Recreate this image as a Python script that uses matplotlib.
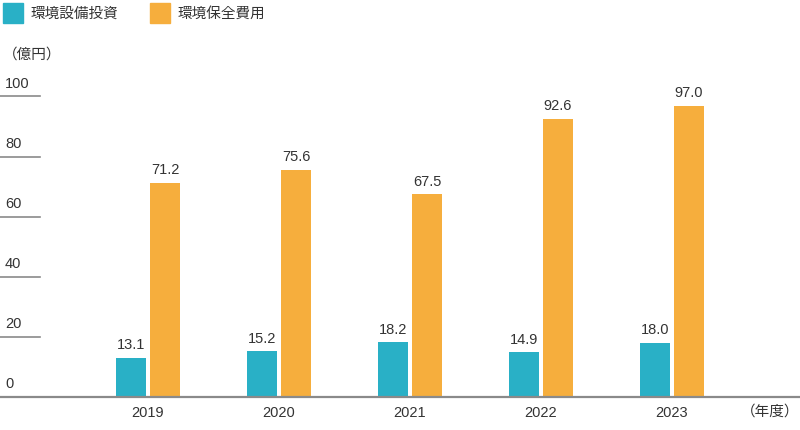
import matplotlib.pyplot as plt
import numpy as np

years = ['2019', '2020', '2021', '2022', '2023']
equipment = [13.1, 15.2, 18.2, 14.9, 18.0]
conservation = [71.2, 75.6, 67.5, 92.6, 97.0]
yticks = [0, 20, 40, 60, 80, 100]
series_names = ['環境設備投資', '環境保全費用']

teal = '#29b0c6'
orange = '#f6ae3d'
grey = '#8a8a8a'
text_c = '#333333'

plt.rcParams['font.family'] = ['Liberation Sans', 'Noto Sans CJK JP', 'DejaVu Sans']

W, H = 800, 430
fig = plt.figure(figsize=(8, 4.3), dpi=100)
# axes placed in pixel terms: y=0 at 397px, y=100 at 96.5px (from top)
ax = fig.add_axes([0, (H - 397) / H, 1, (397 - 96.5) / H])
ax.set_ylim(0, 100)
spacing = 131
ax.set_xlim(-148 / spacing, (W - 148) / spacing)
ax.axis('off')

x = np.arange(len(years))
bw = 30 / spacing
off = 17 / spacing
b1 = ax.bar(x - off, equipment, bw, color=teal, clip_on=False)
b2 = ax.bar(x + off, conservation, bw, color=orange, clip_on=False)

for bars, vals in ((b1, equipment), (b2, conservation)):
    for b, v in zip(bars, vals):
        ax.annotate(f'{v:.1f}', (b.get_x() + b.get_width() / 2, v),
                    xytext=(0, 4), textcoords='offset points',
                    ha='center', va='bottom', fontsize=10.5, color=text_c)

# baseline
ax.axhline(0, color=grey, lw=1.6, clip_on=False)
# short tick lines with labels above
for t in yticks[1:]:
    ax.plot([0, 40 / W], [t, t], transform=ax.get_yaxis_transform(),
            color=grey, lw=1.2, clip_on=False)
for t in yticks:
    ax.annotate(str(t), (5 / W, t), xycoords=ax.get_yaxis_transform(),
                xytext=(0, 4), textcoords='offset points',
                ha='left', va='bottom', fontsize=10.5, color=text_c)

for xi, yr in zip(x, years):
    fig.text((148 + xi * spacing) / W, 1 - 413 / H, yr, ha='center', va='center',
             fontsize=10.5, color=text_c)

fig.text(770 / W, 1 - 412 / H, '（年度）', ha='center', va='center',
         fontsize=10.5, color=text_c)
fig.text(3 / W, 1 - 55 / H, '（億円）', ha='left', va='center',
         fontsize=10.5, color=text_c)

# legend
for lx, col, name in ((3, teal, series_names[0]), (150, orange, series_names[1])):
    fig.patches.append(plt.Rectangle((lx / W, 1 - 23 / H), 20 / W, 20 / H,
                                     transform=fig.transFigure, color=col))
    fig.text((lx + 28) / W, 1 - 14 / H, name, ha='left', va='center',
             fontsize=10.5, color=text_c)

fig.savefig('out.png', dpi=100)
